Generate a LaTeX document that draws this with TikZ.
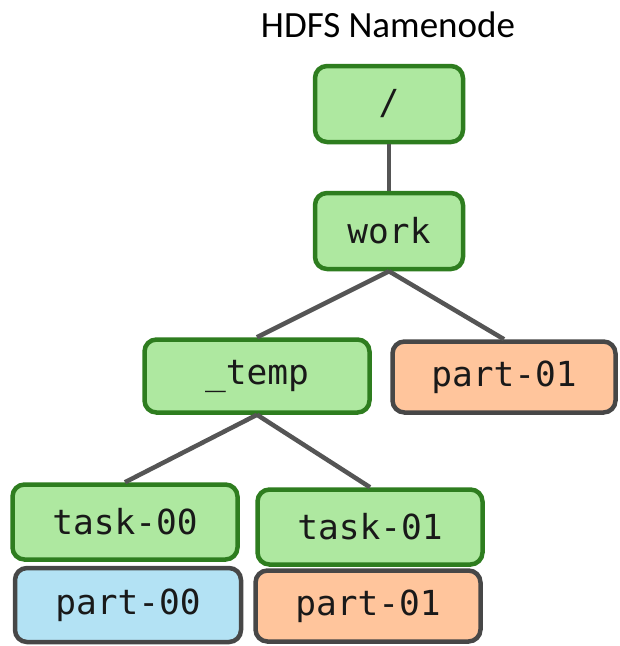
\documentclass[tikz,border=0pt]{standalone}
\usepackage{fontspec}
\setmainfont{Carlito}
\setmonofont{DejaVu Sans Mono}
\definecolor{dirfill}{HTML}{AEE8A0}
\definecolor{dirline}{HTML}{2E7D1F}
\definecolor{newfill}{HTML}{FFC59C}
\definecolor{oldfill}{HTML}{B3E2F4}
\definecolor{fileline}{HTML}{474747}
\definecolor{edgecol}{HTML}{555555}
\tikzset{
  box/.style={rounded corners=12pt, line width=4.5pt, inner sep=0pt,
    font=\ttfamily\fontsize{34.5}{40}\selectfont, text=black!90},
  dir/.style={box, draw=dirline, fill=dirfill},
  newfile/.style={box, draw=fileline, fill=newfill},
  oldfile/.style={box, draw=fileline, fill=oldfill},
  edge/.style={draw=edgecol, line width=4.5pt}
}
\begin{document}
\begin{tikzpicture}[x=1pt,y=-1pt]
    \useasboundingbox(0,0)rectangle(620,646);
    \node[font=\fontsize{37}{42}\selectfont](title)at(388,25){HDFS Namenode};

    \node[dir,minimum width=148pt,minimum height=76pt](root)at(389,104){/};
    \node[dir,minimum width=148pt,minimum height=76pt](work)at(389,231){work};
    \node[dir,minimum width=225pt,minimum height=73pt](temp)at(257,376){\_temp};
    \node[newfile,minimum width=223pt,minimum height=71pt](part1a)at(504,377){part-01};

    \node[dir,minimum width=225pt,minimum height=75pt](task0)at(125,522){task-00};
    \node[dir,minimum width=225pt,minimum height=75pt](task1)at(370,527){task-01};
    \node[oldfile,minimum width=226pt,minimum height=74pt](part0)at(128,605){part-00};
    \node[newfile,minimum width=225pt,minimum height=71pt](part1b)at(368,606){part-01};

    \draw[edge](root.south)--(work.north);
    \draw[edge](work.south)--(temp.north);
    \draw[edge](work.south)--(part1a.north);
    \draw[edge](temp.south)--(task0.north);
    \draw[edge](temp.south)--(task1.north);
\end{tikzpicture}
\end{document}
